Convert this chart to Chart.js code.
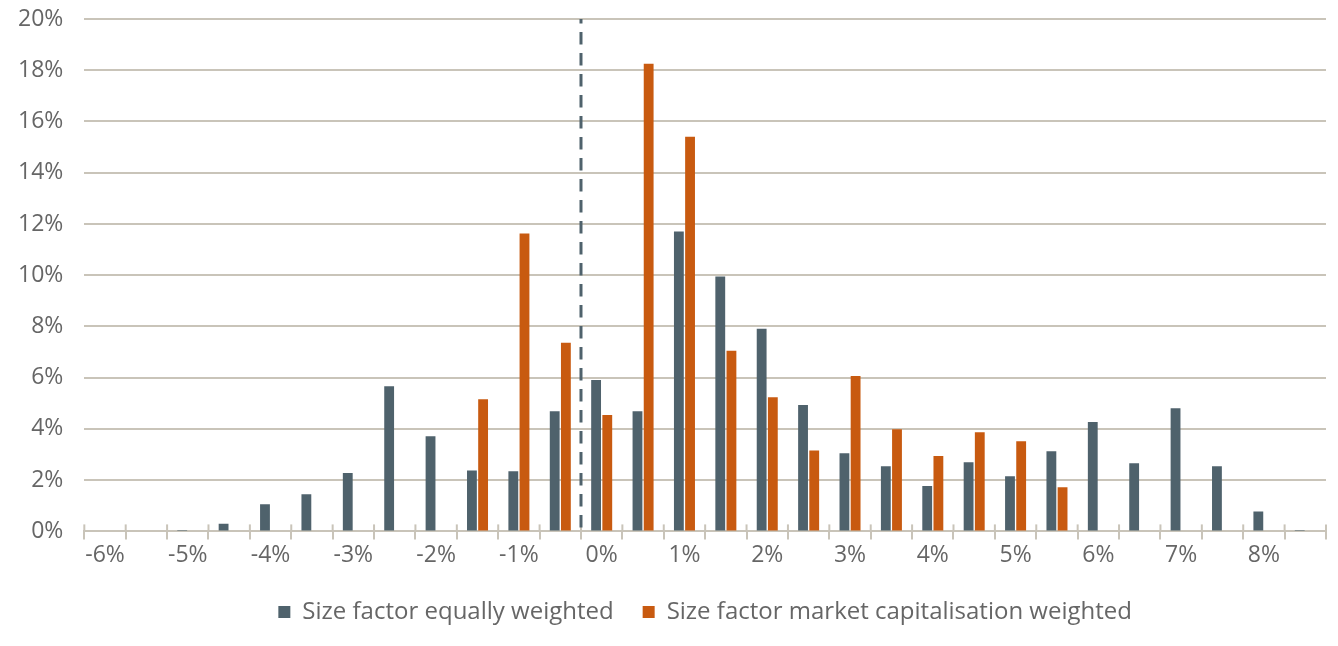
<!DOCTYPE html>
<html>
<head>
<meta charset="utf-8">
<script src="https://cdn.jsdelivr.net/npm/chart.js@4/dist/chart.umd.min.js"></script>
<style>
  html, body { margin: 0; padding: 0; background: #fff; }
  #wrap { width: 1338px; height: 646px; }
</style>
</head>
<body>
<div id="wrap"><canvas id="myChart"></canvas></div>
<script>
// return buckets, 0.5% wide
const buckets = [
  "-6%", "-5.5%", "-5%", "-4.5%", "-4%", "-3.5%", "-3%", "-2.5%", "-2%", "-1.5%",
  "-1%", "-0.5%", "0%", "0.5%", "1%", "1.5%", "2%", "2.5%", "3%", "3.5%",
  "4%", "4.5%", "5%", "5.5%", "6%", "6.5%", "7%", "7.5%", "8%", "8.5%"
];
const equalWeighted = [
  0, 0, 0.05, 0.3, 1.06, 1.45, 2.28, 5.67, 3.71, 2.38,
  2.35, 4.69, 5.91, 4.69, 11.71, 9.95, 7.91, 4.93, 3.05, 2.54,
  1.77, 2.7, 2.15, 3.13, 4.27, 2.66, 4.81, 2.54, 0.78, 0.05
];
const capWeighted = [
  0, 0, 0, 0, 0, 0, 0, 0, 0, 5.16,
  11.63, 7.36, 4.54, 18.25, 15.4, 7.05, 5.24, 3.16, 6.07, 3.99,
  2.94, 3.87, 3.52, 1.72, 0, 0, 0, 0, 0, 0
];
const seriesNames = ["Size factor equally weighted", "Size factor market capitalisation weighted"];
const yTicks = [0, 2, 4, 6, 8, 10, 12, 14, 16, 18, 20];
const dashedAfter = "-0.5%"; // dashed marker sits between this bucket and the next

const slate = "#4f626c";
const orange = "#c85a10";
const gridCol = "#c9c4b9";
const textCol = "#666666";

const $ = document.querySelector.bind(document);

const markerLine = {
  id: "markerLine",
  afterDatasetsDraw(c) {
    const x = c.scales.x;
    const area = c.chartArea;
    const ctx = c.ctx;
    const i = buckets.indexOf(dashedAfter);
    const step = x.getPixelForValue(1) - x.getPixelForValue(0);
    const px = (x.getPixelForValue(i) + x.getPixelForValue(i + 1)) / 2;
    ctx.save();
    // small tick stubs above the axis line
    ctx.strokeStyle = gridCol;
    ctx.lineWidth = 2;
    for (let k = 0; k <= buckets.length; k++) {
      const tx = x.getPixelForValue(k) - step / 2;
      ctx.beginPath();
      ctx.moveTo(tx, area.bottom - 7);
      ctx.lineTo(tx, area.bottom);
      ctx.stroke();
    }
    ctx.strokeStyle = slate;
    ctx.lineWidth = 3;
    ctx.setLineDash([12.5, 8.5]);
    ctx.lineDashOffset = 8;
    ctx.beginPath();
    ctx.moveTo(px, area.top);
    ctx.lineTo(px, area.bottom);
    ctx.stroke();
    ctx.restore();
  }
};

const fontFam = "'Open Sans', 'Noto Sans', sans-serif";

const chart = new Chart($("#myChart").getContext("2d"), {
  type: "bar",
  data: {
    labels: buckets,
    datasets: [
      {
        label: seriesNames[0],
        data: equalWeighted,
        backgroundColor: slate,
        categoryPercentage: 0.54,
        barPercentage: 0.88
      },
      {
        label: seriesNames[1],
        data: capWeighted,
        backgroundColor: orange,
        categoryPercentage: 0.54,
        barPercentage: 0.88
      }
    ]
  },
  options: {
    responsive: true,
    maintainAspectRatio: false,
    animation: false,
    layout: { padding: { left: -3, right: 12, top: 19, bottom: 12 } },
    plugins: {
      tooltip: { enabled: false },
      legend: {
        position: "bottom",
        fullSize: false,
        labels: {
          color: textCol,
          font: { family: fontFam, size: 24 },
          boxWidth: 12,
          boxHeight: 12,
          padding: 29
        }
      }
    },
    scales: {
      x: {
        grid: {
          offset: true,
          drawOnChartArea: false,
          color: gridCol,
          lineWidth: 2,
          tickLength: 8
        },
        border: { color: gridCol, width: 2 },
        ticks: {
          autoSkip: false,
          maxRotation: 0,
          color: textCol,
          font: { family: fontFam, size: 23 },
          padding: 2,
          callback: (v, i) => (i % 2 === 0 ? buckets[i] : "")
        }
      },
      y: {
        min: 0,
        max: 20,
        afterBuildTicks: (s) => { s.ticks = yTicks.map((v) => ({ value: v })); },
        afterFit: (s) => { s.paddingTop = 0; s.paddingBottom = 0; },
        grid: { color: gridCol, lineWidth: 2, drawTicks: false },
        border: { display: false },
        ticks: {
          color: textCol,
          font: { family: fontFam, size: 23 },
          padding: 21,
          callback: (v) => v + "%"
        }
      }
    }
  },
  plugins: [markerLine]
});
</script>
</body>
</html>
